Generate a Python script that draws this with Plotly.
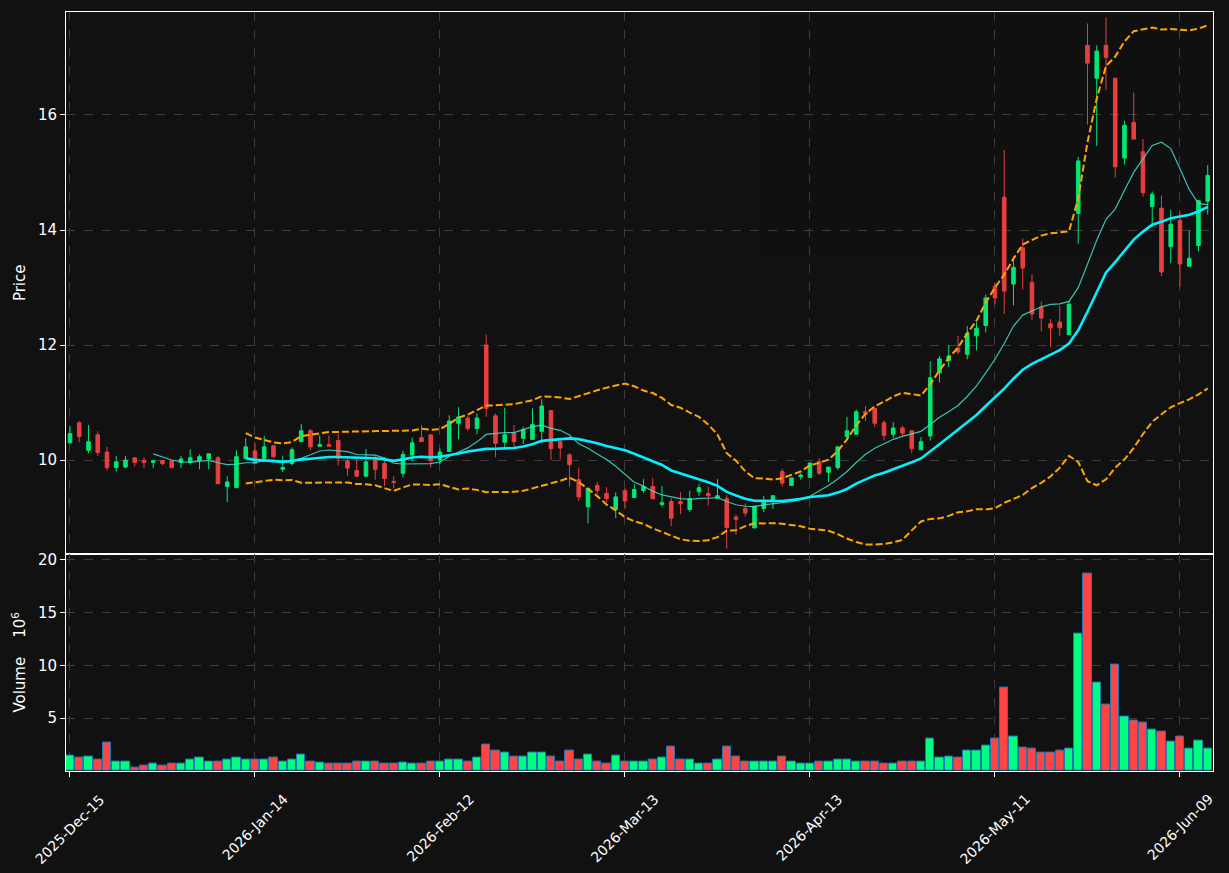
import pandas as pd
import plotly.graph_objects as go

# ---------------- data ----------------
holidays = ["2025-12-25", "2026-01-01", "2026-01-19", "2026-02-16", "2026-04-03", "2026-05-25"]
dates = [d for d in pd.bdate_range("2025-12-15", "2026-06-12") if d.strftime("%Y-%m-%d") not in holidays]

opens = [10.30, 10.65, 10.17, 10.44, 10.14, 9.87, 9.88, 10.04, 9.99, 9.96,
         9.99, 9.99, 9.96, 9.96, 9.99, 10.02, 10.04, 9.54, 9.52, 10.03,
         10.16, 10.03, 10.25, 9.84, 9.94, 10.32, 10.51, 10.24, 10.27, 10.34,
         9.99, 9.82, 9.72, 10.01, 9.94, 9.63, 9.77, 10.09, 10.39, 10.44,
         10.00, 10.15, 10.64, 10.73, 10.55, 12.00, 10.77, 10.31, 10.47, 10.38,
         10.36, 10.50, 10.86, 10.32, 10.09, 9.66, 9.19, 9.56, 9.42, 9.14,
         9.47, 9.35, 9.47, 9.54, 9.23, 9.28, 9.28, 9.14, 9.45, 9.42,
         9.34, 9.33, 9.01, 9.16, 8.82, 9.16, 9.28, 9.80, 9.56, 9.71,
         9.70, 9.98, 9.79, 9.87, 10.41, 10.45, 10.84, 10.90, 10.65, 10.45,
         10.56, 10.51, 10.18, 10.42, 11.52, 11.73, 11.95, 11.84, 12.16, 12.34,
         13.02, 14.57, 13.06, 13.69, 13.09, 12.66, 12.37, 12.40, 12.18, 14.29,
         17.21, 16.64, 17.21, 16.64, 15.25, 15.87, 15.36, 14.41, 14.38, 13.71,
         14.17, 13.37, 13.73, 14.50]
highs = [10.59, 10.68, 10.61, 10.50, 10.23, 10.07, 10.07, 10.04, 10.05, 9.99,
         10.01, 9.99, 10.07, 10.19, 10.10, 10.11, 10.07, 9.72, 10.17, 10.38,
         10.31, 10.42, 10.25, 10.07, 10.22, 10.63, 10.54, 10.43, 10.43, 10.45,
         10.04, 10.05, 10.19, 10.09, 10.05, 9.72, 10.16, 10.39, 10.61, 10.44,
         10.20, 10.78, 10.92, 10.77, 10.81, 12.18, 10.81, 10.91, 10.61, 10.58,
         10.90, 11.06, 10.86, 10.34, 10.12, 9.87, 9.51, 9.62, 9.53, 9.44,
         9.51, 9.58, 9.67, 9.69, 9.55, 9.34, 9.44, 9.47, 9.58, 9.54,
         9.67, 9.39, 9.05, 9.25, 9.20, 9.38, 9.38, 9.85, 9.69, 9.77,
         9.95, 10.03, 9.88, 10.23, 10.75, 10.88, 10.94, 10.90, 10.69, 10.66,
         10.60, 10.51, 10.40, 11.72, 11.81, 12.00, 12.16, 12.33, 12.40, 12.88,
         13.08, 15.39, 13.54, 13.85, 13.23, 12.76, 12.45, 12.68, 12.77, 15.27,
         17.59, 17.21, 17.69, 16.64, 15.90, 16.39, 15.58, 14.67, 14.60, 14.35,
         14.32, 13.99, 14.51, 15.13]
lows = [10.28, 10.31, 10.12, 10.07, 9.82, 9.80, 9.86, 9.89, 9.86, 9.86,
        9.91, 9.86, 9.86, 9.92, 9.84, 9.84, 9.58, 9.27, 9.52, 10.03,
        9.94, 10.03, 10.03, 9.79, 9.91, 10.32, 10.18, 10.24, 10.24, 9.91,
        9.73, 9.70, 9.70, 9.66, 9.55, 9.51, 9.70, 9.98, 10.32, 9.87,
        9.93, 10.15, 10.36, 10.51, 10.45, 10.75, 10.05, 10.23, 10.23, 10.28,
        10.36, 10.29, 10.00, 10.02, 9.54, 9.29, 8.90, 9.41, 9.27, 8.99,
        9.15, 9.35, 9.43, 9.32, 9.19, 8.85, 9.06, 9.10, 9.38, 9.21,
        9.34, 8.46, 8.70, 9.02, 8.82, 9.10, 9.15, 9.54, 9.56, 9.66,
        9.70, 9.74, 9.62, 9.83, 10.36, 10.45, 10.68, 10.57, 10.34, 10.39,
        10.42, 10.12, 10.17, 10.34, 11.35, 11.62, 11.84, 11.75, 11.91, 12.22,
        12.71, 12.54, 12.69, 12.97, 12.43, 12.24, 11.97, 12.16, 12.18, 13.76,
        15.83, 15.46, 16.43, 14.91, 15.14, 15.58, 14.58, 14.05, 13.20, 13.42,
        13.01, 13.37, 13.63, 14.27]
closes = [10.46, 10.41, 10.32, 10.13, 9.87, 9.97, 10.00, 9.96, 9.96, 9.99,
          9.94, 9.87, 10.02, 10.04, 10.06, 10.11, 9.59, 9.62, 10.06, 10.23,
          9.94, 10.23, 10.06, 9.87, 10.18, 10.51, 10.23, 10.27, 10.24, 10.03,
          9.86, 9.72, 9.97, 9.84, 9.68, 9.61, 10.10, 10.30, 10.32, 9.99,
          10.14, 10.68, 10.75, 10.55, 10.73, 10.90, 10.29, 10.44, 10.32, 10.53,
          10.62, 10.94, 10.20, 10.21, 9.92, 9.36, 9.51, 9.47, 9.33, 9.36,
          9.29, 9.49, 9.54, 9.33, 9.26, 8.99, 9.24, 9.33, 9.52, 9.38,
          9.38, 8.83, 8.97, 9.08, 9.20, 9.28, 9.38, 9.60, 9.69, 9.74,
          9.95, 9.77, 9.88, 10.23, 10.51, 10.84, 10.80, 10.64, 10.43, 10.56,
          10.47, 10.20, 10.32, 11.43, 11.76, 11.81, 11.88, 12.20, 12.29, 12.82,
          12.82, 12.94, 13.35, 13.34, 12.54, 12.47, 12.30, 12.30, 12.71, 15.20,
          16.90, 17.11, 17.00, 15.10, 15.82, 15.58, 14.65, 14.62, 13.27, 14.10,
          13.41, 13.51, 14.51, 14.95]
volumes = [1.42, 1.23, 1.32, 1.13, 2.74, 0.91, 0.91, 0.28, 0.53, 0.66,
           0.53, 0.75, 0.66, 1.04, 1.23, 0.91, 0.91, 1.13, 1.23, 1.04,
           1.13, 1.13, 1.23, 0.91, 1.13, 1.60, 0.91, 0.82, 0.66, 0.75,
           0.75, 0.91, 0.91, 0.91, 0.75, 0.66, 0.82, 0.66, 0.75, 0.85,
           0.85, 1.04, 1.13, 0.85, 1.23, 2.55, 1.98, 1.70, 1.32, 1.32,
           1.79, 1.79, 1.32, 0.91, 1.89, 1.04, 1.51, 0.85, 0.66, 1.42,
           0.91, 0.94, 0.85, 1.13, 1.23, 2.36, 1.13, 1.13, 0.72, 0.72,
           1.04, 2.36, 1.32, 0.85, 0.94, 0.85, 0.94, 1.32, 0.85, 0.66,
           0.72, 0.94, 0.94, 1.13, 1.13, 0.94, 0.94, 0.85, 0.66, 0.72,
           0.85, 0.85, 0.94, 3.11, 1.23, 1.32, 1.23, 1.89, 1.89, 2.45,
           3.11, 7.92, 3.30, 2.26, 2.17, 1.70, 1.79, 1.89, 2.17, 13.02,
           18.68, 8.40, 6.32, 10.09, 5.19, 4.81, 4.62, 3.96, 3.77, 2.83,
           3.30, 2.08, 2.92, 2.08]

tick_idx = [0, 20, 40, 60, 80, 100, 120]

# ---------------- derived ----------------
x = list(range(len(dates)))
tick_labels = [dates[i].strftime("%Y-%b-%d") for i in tick_idx]
cs = pd.Series(closes)
ma10 = cs.rolling(10).mean()
ma20 = cs.rolling(20).mean()
sd20 = cs.rolling(20).std()
bb_up = ma20 + 2 * sd20
bb_lo = ma20 - 2 * sd20

UP = "#00ff80"
DN = "#ff4444"
BG = "#111111"
GRID = "#3d3d3d"
vol_colors = [UP if c >= o else DN for o, c in zip(opens, closes)]

fig = go.Figure()
fig.add_trace(go.Candlestick(
    x=x, open=opens, high=highs, low=lows, close=closes,
    increasing=dict(line=dict(color=UP, width=1), fillcolor=UP),
    decreasing=dict(line=dict(color=DN, width=1), fillcolor=DN),
    whiskerwidth=0, opacity=0.9, xaxis="x", yaxis="y", showlegend=False,
))
fig.add_trace(go.Scatter(x=x, y=ma10, mode="lines",
                         line=dict(color="rgba(64,224,208,0.85)", width=1.2),
                         xaxis="x", yaxis="y", showlegend=False))
fig.add_trace(go.Scatter(x=x, y=ma20, mode="lines",
                         line=dict(color="#00f0ff", width=2.6),
                         xaxis="x", yaxis="y", showlegend=False))
for band in (bb_up, bb_lo):
    fig.add_trace(go.Scatter(x=x, y=band, mode="lines",
                             line=dict(color="#ffa500", width=2, dash="7px,3px"),
                             xaxis="x", yaxis="y", showlegend=False))
fig.add_trace(go.Bar(x=x, y=volumes, marker=dict(color=vol_colors, line=dict(color="#1f77b4", width=1)),
                     width=0.88, xaxis="x2", yaxis="y2", showlegend=False))

vol_frac = 218 / 761
xr = [-0.43, 123.57]
common_x = dict(range=xr, tickvals=tick_idx, showgrid=True, gridcolor=GRID, griddash="dash",
                gridwidth=1, zeroline=False, showline=True, linecolor="white", linewidth=1,
                mirror=True)
common_y = dict(showgrid=True, gridcolor=GRID, griddash="dash", gridwidth=1, zeroline=False,
                showline=True, linecolor="white", linewidth=1, mirror=True, ticks="outside",
                ticklen=5, tickcolor="white", tickfont=dict(size=15, color="white"))

annotations = [dict(x=i, y=-0.0225, xref="x2", yref="paper", text=t, textangle=-45,
                    showarrow=False, xanchor="center", yanchor="top",
                    font=dict(size=14, color="white")) for i, t in zip(tick_idx, tick_labels)]

fig.update_layout(
    width=1229, height=873,
    margin=dict(l=66, r=16, t=10, b=102),
    paper_bgcolor=BG, plot_bgcolor=BG,
    font=dict(family="DejaVu Sans", color="white", size=14),
    boxgap=0.45, bargap=0,
    xaxis=dict(anchor="y", domain=[0, 1], showticklabels=False, ticks="",
               rangeslider=dict(visible=False), matches="x2", **common_x),
    xaxis2=dict(anchor="y2", domain=[0, 1], showticklabels=False, ticks="outside",
                ticklen=5, tickcolor="white", **common_x),
    yaxis=dict(domain=[vol_frac, 1], range=[8.375, 17.79], tickvals=[10, 12, 14, 16],
               title=dict(text="Price", font=dict(size=15, color="white"), standoff=8), **common_y),
    yaxis2=dict(domain=[0, vol_frac], range=[0, 20.6], tickvals=[5, 10, 15, 20],
                title=dict(text="Volume\u00a0\u00a0\u00a0\u00a010<sup>6</sup>",
                           font=dict(size=15, color="white"), standoff=8),
                **common_y),
    annotations=annotations,
    hovermode=False,
)

fig.write_html("out.html")
